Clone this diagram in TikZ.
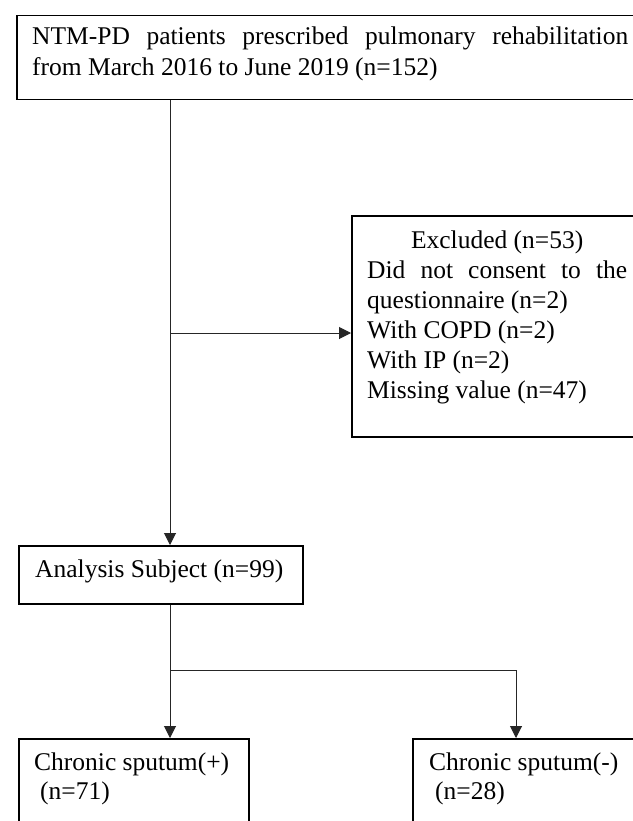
\documentclass[tikz,border=0pt]{standalone}
\usepackage{fontspec}
\setmainfont{Liberation Serif}
\usetikzlibrary{arrows.meta}
\begin{document}
\begin{tikzpicture}[x=1pt,y=-1pt,
  box/.style={draw=black, line width=1.5pt, rectangle, inner sep=0pt, anchor=north west},
  txt/.style={anchor=base west, inner sep=0pt, font=\fontsize{25.5}{30}\selectfont},
  conn/.style={draw=black!85, line width=1pt},
  arr/.style={conn, -{Triangle[length=12pt,width=12pt]}}]
\useasboundingbox (0,0) rectangle (632,821);
\fill[white] (0,0) rectangle (632,821);
% boxes
\node[box, minimum width=630pt, minimum height=84pt] (top) at (16,15) {};
\node[box, minimum width=289pt, minimum height=221pt] (exc) at (351,215) {};
\node[box, minimum width=284pt, minimum height=58pt] (ana) at (18,545) {};
\node[box, minimum width=230pt, minimum height=120pt] (lb) at (18,738) {};
\node[box, minimum width=230pt, minimum height=120pt] (rb) at (412,738) {};
% texts
\node[txt] (toptxt) at (32,45) {\parbox[t]{596pt}{\fontsize{25.5}{31}\selectfont NTM-PD\hfill patients\hfill prescribed\hfill pulmonary\hfill rehabilitation\\ from March 2016 to June 2019 (n=152)}};
\node[txt] (exctxt) at (367,248) {\parbox[t]{260pt}{\fontsize{25.5}{30}\selectfont\makebox[260pt]{Excluded (n=53)}\\ Did\hfill not\hfill consent\hfill to\hfill the\\ questionnaire (n=2)\\ With COPD (n=2)\\ With IP (n=2)\\ Missing value (n=47)}};
\node[txt] (anatxt) at (35,577) {Analysis Subject (n=99)};
\node[txt] (lbtxt) at (34,770) {\parbox[t]{220pt}{\fontsize{25.5}{29}\selectfont Chronic sputum(+)\\\hspace*{6pt}(n=71)}};
\node[txt] (rbtxt) at (429,770) {\parbox[t]{220pt}{\fontsize{25.5}{29}\selectfont Chronic sputum(-)\\\hspace*{6pt}(n=28)}};
% connectors
\coordinate (j1) at (170,333);
\coordinate (j2) at (170,670);
\coordinate (j3) at (516,670);
\draw[arr] (j1 |- top.south) -- (j1 |- ana.north);
\draw[arr] (j1) -- (j1 -| exc.west);
\draw[arr] (j2 |- ana.south) -- (j2 |- lb.north);
\draw[arr] (j2) -- (j3) -- (j3 |- rb.north);
\end{tikzpicture}
\end{document}
